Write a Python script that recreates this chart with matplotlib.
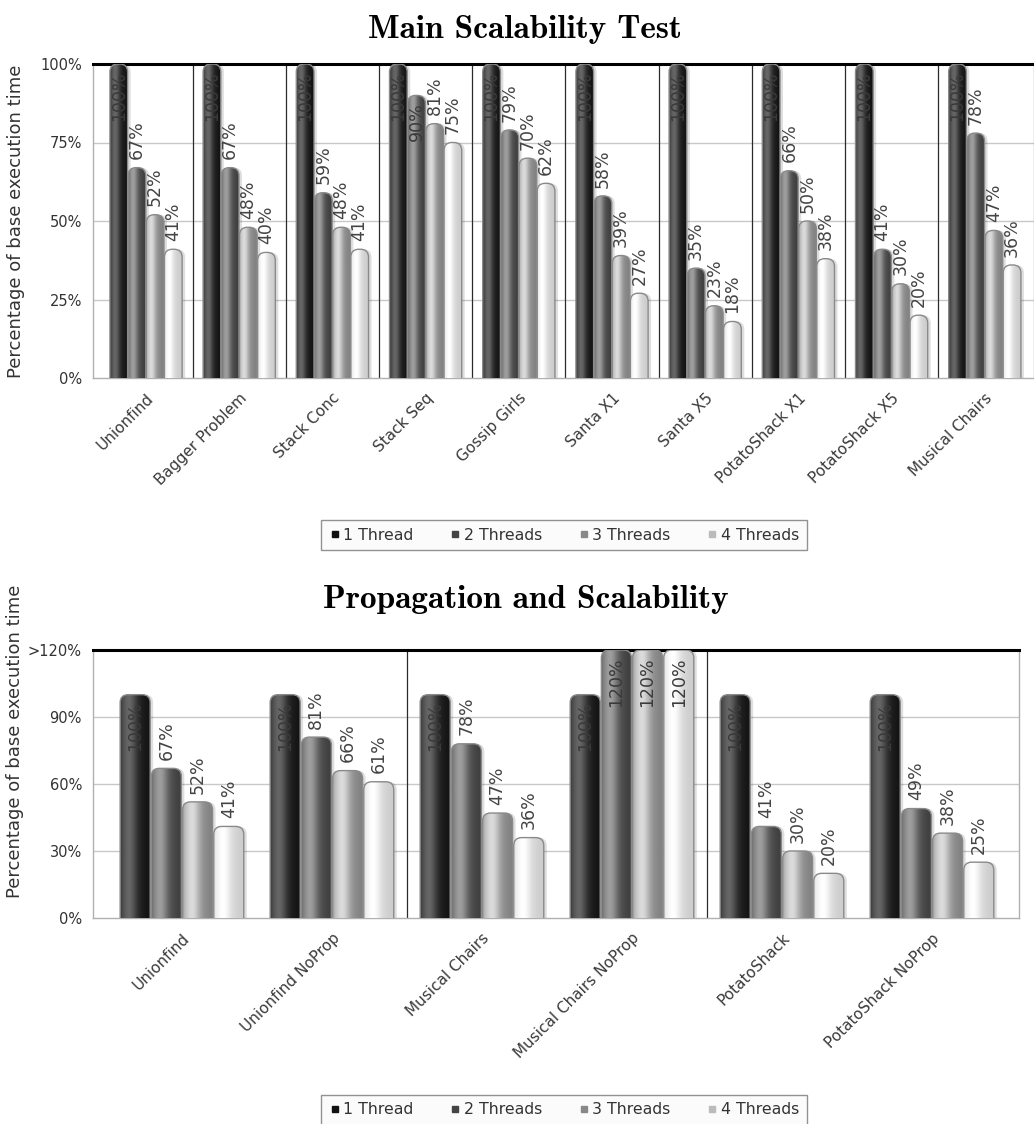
import numpy as np
import matplotlib
matplotlib.use("Agg")
import matplotlib.pyplot as plt
from matplotlib.patches import FancyBboxPatch
from matplotlib.lines import Line2D

# ---- data -------------------------------------------------------------
series = ["1 Thread", "2 Threads", "3 Threads", "4 Threads"]

main_tests = ["Unionfind", "Bagger Problem", "Stack Conc", "Stack Seq",
              "Gossip Girls", "Santa X1", "Santa X5", "PotatoShack X1",
              "PotatoShack X5", "Musical Chairs"]
main_t1 = [100, 100, 100, 100, 100, 100, 100, 100, 100, 100]
main_t2 = [67, 67, 59, 90, 79, 58, 35, 66, 41, 78]
main_t3 = [52, 48, 48, 81, 70, 39, 23, 50, 30, 47]
main_t4 = [41, 40, 41, 75, 62, 27, 18, 38, 20, 36]
main_ticks = [0, 25, 50, 75, 100]
main_ticklabels = ["0%", "25%", "50%", "75%", "100%"]

prop_tests = ["Unionfind", "Unionfind NoProp", "Musical Chairs",
              "Musical Chairs NoProp", "PotatoShack", "PotatoShack NoProp"]
prop_t1 = [100, 100, 100, 100, 100, 100]
prop_t2 = [67, 81, 78, 120, 41, 49]
prop_t3 = [52, 66, 47, 120, 30, 38]
prop_t4 = [41, 61, 36, 120, 20, 25]
prop_ticks = [0, 30, 60, 90, 120]
prop_ticklabels = ["0%", "30%", "60%", "90%", ">120%"]

# ---- styling ----------------------------------------------------------
W, H = 1034, 1124
SHADES = [(0.07, 0.40), (0.24, 0.62), (0.50, 0.86), (0.80, 1.0)]
LEGEND_COLORS = ["#111111", "#444444", "#888888", "#bbbbbb"]
TXT = "#333333"


def shade(lo, hi, n=64):
    # cylinder-like horizontal shading: bright stripe left of centre, dark edges
    t = np.linspace(0, 1, n)
    f = 0.65 * np.exp(-((t - 0.3) / 0.25) ** 2) + 0.35 * (1 - t)
    f = f / f.max()
    edge = np.clip(np.minimum(t, 1 - t) / 0.08, 0, 1) ** 0.5
    v = lo + (hi - lo) * f * (0.75 + 0.25 * edge)
    return np.dstack([v, v, v])[0][None, :, :]


def draw_chart(ax, cats, values, ticks, ticklabels, xlim, seps, bw, pitch):
    ymax = ticks[-1]
    ax.set_xlim(*xlim)
    ax.set_ylim(0, ymax)
    bb = ax.get_position()
    px_x = bb.width * W / (xlim[1] - xlim[0])   # pixels per x unit
    px_y = bb.height * H / ymax                  # pixels per y unit
    asp = px_x / px_y
    r = 8 / px_x
    x = np.arange(len(cats))

    for k, vals in enumerate(values):
        lo, hi = SHADES[k]
        bars = ax.bar(x + (k - 1.5) * pitch, vals, bw, color="none",
                      edgecolor="none", zorder=3)
        for rect, v in zip(bars, vals):
            x0, w, h = rect.get_x(), rect.get_width(), rect.get_height()
            # soft drop shadow to the right
            sh = FancyBboxPatch((x0 + 3 / px_x, -10), w, h + 10,
                                boxstyle=f"round,pad=0,rounding_size={r}",
                                mutation_aspect=asp, fc="black", ec="none",
                                alpha=0.13, zorder=2)
            ax.add_patch(sh)
            body = FancyBboxPatch((x0, -10), w, h + 10,
                                  boxstyle=f"round,pad=0,rounding_size={r}",
                                  mutation_aspect=asp, fc="none",
                                  ec="#8a8a8a", lw=1.0, zorder=4)
            ax.add_patch(body)
            im = ax.imshow(shade(lo, hi), extent=(x0, x0 + w, 0, h),
                           aspect="auto", zorder=3, interpolation="bilinear")
            im.set_clip_path(body)
            label = f"{v}%"
            inside = v + (8 + 40) / px_y > ymax or v >= 100
            if inside:
                ax.annotate(label, (x0 + w / 2, min(h, ymax)), xytext=(0, -5),
                            textcoords="offset points", rotation=90,
                            ha="center", va="top", fontsize=12.5,
                            color="#3a3a3a", zorder=6)
            else:
                ax.annotate(label, (x0 + w / 2, h), xytext=(0, 6),
                            textcoords="offset points", rotation=90,
                            ha="center", va="bottom", fontsize=12.5,
                            color="#444444", zorder=6)

    ax.set_xlim(*xlim)
    ax.set_ylim(0, ymax)
    for t in ticks[1:-1]:
        ax.axhline(t, color="#c8c8c8", lw=1.0, zorder=1)
    for s in seps:
        ax.axvline(s, color="#2a2a2a", lw=0.9, zorder=1)
    ax.set_yticks(ticks)
    ax.set_yticklabels(ticklabels, fontsize=10.5, color=TXT)
    ax.set_xticks(x)
    ax.set_xticklabels(cats, rotation=45, ha="right", rotation_mode="anchor",
                       fontsize=11, color="#3a3a3a")
    ax.tick_params(length=0, pad=8)
    ax.tick_params(axis="x", pad=9)
    ax.spines["top"].set_color("black")
    ax.spines["top"].set_linewidth(2.2)
    for s in ("left", "right", "bottom"):
        ax.spines[s].set_color("#b0b0b0")
        ax.spines[s].set_linewidth(1.0)
    ax.set_ylabel("Percentage of base execution time", fontsize=13, color=TXT)


fig = plt.figure(figsize=(W / 100, H / 100), dpi=100)

ax1 = fig.add_axes([93 / W, 1 - 378 / H, (1034 - 93) / W, 314 / H])
draw_chart(ax1, main_tests, [main_t1, main_t2, main_t3, main_t4],
           main_ticks, main_ticklabels, (-0.569, 9.528),
           np.arange(9) + 0.5, 0.19, 0.195)
ax1.yaxis.set_label_coords(-0.072, 0.5)

ax2 = fig.add_axes([93 / W, 1 - 918 / H, (1019 - 93) / W, 268 / H])
draw_chart(ax2, prop_tests, [prop_t1, prop_t2, prop_t3, prop_t4],
           prop_ticks, prop_ticklabels, (-0.593, 5.58),
           [1.5, 3.5], 0.2, 0.208)
ax2.yaxis.set_label_coords(-0.075, 0.66)

fig.text(525 / W, 1 - 38 / H, "Main Scalability Test", family="cmb10",
         fontsize=24, ha="center", va="baseline")
fig.text(526 / W, 1 - 608 / H, "Propagation and Scalability", family="cmb10",
         fontsize=24, ha="center", va="baseline")

handles = [Line2D([], [], marker="s", ls="", color=c, markersize=5, label=l)
           for c, l in zip(LEGEND_COLORS, series)]
for yc in (535, 1110):
    leg = fig.legend(handles=handles, loc="center",
                     bbox_to_anchor=(564 / W, 1 - yc / H), ncol=4,
                     frameon=True, fancybox=False, edgecolor="#777777",
                     facecolor="#fafafa", fontsize=11.3, handletextpad=0.2,
                     columnspacing=2.3, handlelength=0.7, borderpad=0.5)
    leg.get_frame().set_linewidth(1.0)
    for t in leg.get_texts():
        t.set_color(TXT)

fig.savefig("out.png", dpi=100)
